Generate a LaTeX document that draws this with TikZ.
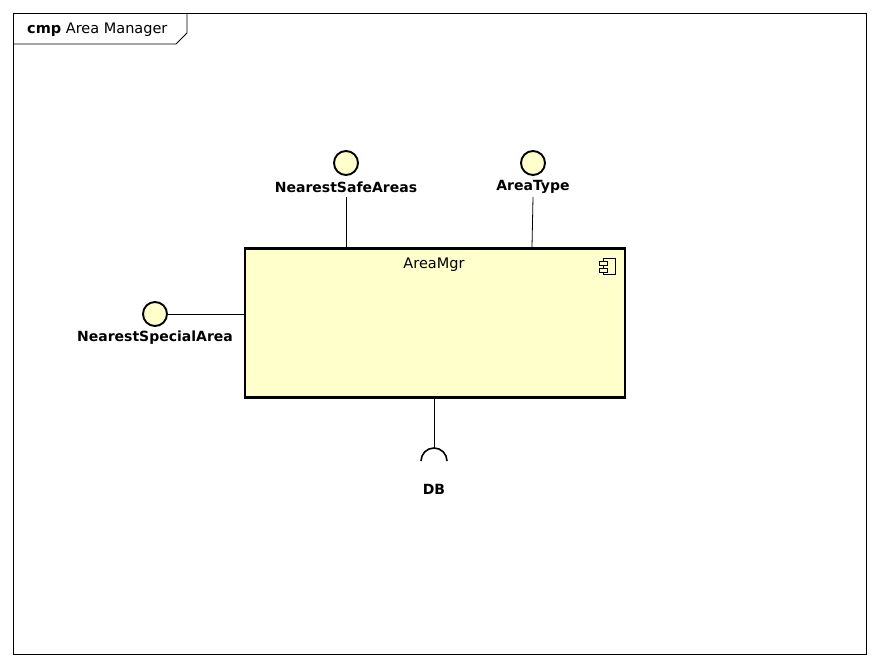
\documentclass[tikz,border=0pt]{standalone}
\usepackage{fontspec}
\setmainfont{DejaVu Sans}
\definecolor{compfill}{RGB}{255,255,204}
\begin{document}
\begin{tikzpicture}[x=1pt,y=-1pt,
  iface/.style={circle,draw,line width=1.9pt,fill=compfill,minimum size=24pt,inner sep=0pt},
  lbl/.style={font=\fontsize{14}{16}\selectfont\bfseries,inner sep=0pt},
  comp/.style={draw,line width=2.6pt,fill=compfill,minimum width=380pt,minimum height=149pt,inner sep=0pt},
  conn/.style={line width=0.8pt}]
\useasboundingbox (0,0) rectangle (880,666);
\fill[white] (0,0) rectangle (880,666);
% frame
\draw[line width=0.8pt] (13,13) rectangle (866,654);
\draw[line width=0.8pt] (13,44) -- (176,44) -- (187,33) -- (187,13);
\node[anchor=west,inner sep=0pt,font=\fontsize{14.5}{16}\selectfont] (title) at (27,30) {\textbf{cmp} Area Manager};
% component
\node[comp] (mgr) at (435,323) {};
\node[inner sep=0pt,font=\fontsize{14.5}{16}\selectfont] (mgrname) at (434,265) {AreaMgr};
% component icon
\draw[line width=0.7pt] (603,258) rectangle (615,274);
\draw[line width=0.7pt,fill=compfill] (599,261) rectangle (607,265);
\draw[line width=0.7pt,fill=compfill] (599,268) rectangle (607,272);
% interfaces
\node[iface] (safe) at (346,163) {};
\node[lbl] (safel) at (346,187) {NearestSafeAreas};
\node[iface] (type) at (533,163) {};
\node[lbl] (typel) at (533,187) {AreaType};
\node[iface] (spec) at (155,314) {};
\node[lbl] (specl) at (155,338) {NearestSpecialArea};
\node[lbl] (dbl) at (434,489) {DB};
\coordinate (safeb) at (346,197);
\coordinate (typeb) at (533,197);
\draw[conn] (safeb) -- (safeb |- mgr.north);
\draw[conn] (typeb) -- (532,247);
\draw[conn] (spec.east) -- (spec.east -| mgr.west);
% DB socket
\coordinate (dbtop) at (434,449);
\draw[conn] (434,399) -- (dbtop);
\draw[line width=1.6pt] (421,461) arc[start angle=180,end angle=360,radius=13];
\end{tikzpicture}
\end{document}
